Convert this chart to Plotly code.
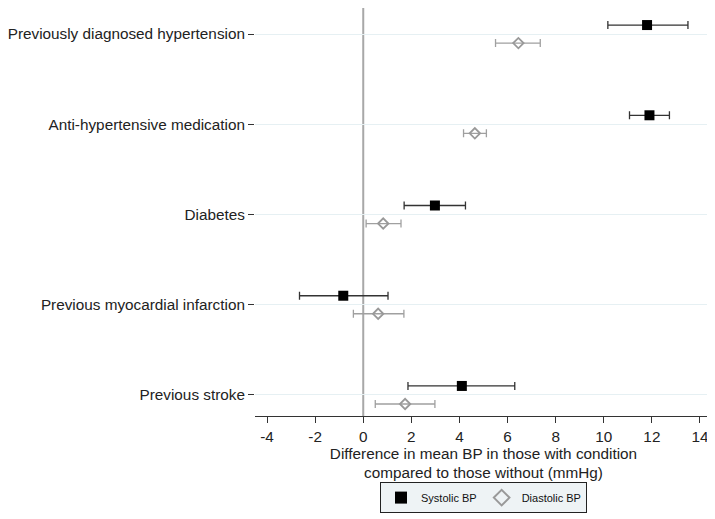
import plotly.graph_objects as go

# Conditions, top to bottom
conditions = ['Previously diagnosed hypertension', 'Anti-hypertensive medication',
              'Diabetes', 'Previous myocardial infarction', 'Previous stroke']

# Systolic BP: mean difference and 95% CI
sys_mean = [11.8, 11.9, 2.98, -0.83, 4.1]
sys_low = [10.17, 11.07, 1.7, -2.65, 1.86]
sys_high = [13.5, 12.73, 4.25, 1.03, 6.3]

# Diastolic BP: mean difference and 95% CI
dia_mean = [6.45, 4.64, 0.83, 0.62, 1.74]
dia_low = [5.5, 4.17, 0.12, -0.41, 0.5]
dia_high = [7.36, 5.12, 1.57, 1.69, 2.98]

x_ticks = [-4, -2, 0, 2, 4, 6, 8, 10, 12, 14]

FONT = 'Liberation Sans, Arial, sans-serif'

n = len(conditions)
ypos = [n - i for i in range(n)]
offset = 0.1

fig = go.Figure()

# Systolic
fig.add_trace(go.Scatter(
    x=sys_mean,
    y=[p + offset for p in ypos],
    mode='markers',
    name='Systolic BP',
    marker=dict(symbol='square', size=10, color='black'),
    error_x=dict(type='data', symmetric=False,
                 array=[h - m for h, m in zip(sys_high, sys_mean)],
                 arrayminus=[m - l for m, l in zip(sys_mean, sys_low)],
                 color='#333333', thickness=1.3, width=4),
))

# Diastolic
fig.add_trace(go.Scatter(
    x=dia_mean,
    y=[p - offset for p in ypos],
    mode='markers',
    name='Diastolic BP',
    marker=dict(symbol='diamond-open', size=8, color='#999999',
                line=dict(width=1.8, color='#999999')),
    error_x=dict(type='data', symmetric=False,
                 array=[h - m for h, m in zip(dia_high, dia_mean)],
                 arrayminus=[m - l for m, l in zip(dia_mean, dia_low)],
                 color='#a0a0a0', thickness=1.3, width=4),
))

# Reference line at zero
fig.add_shape(type='line', xref='x', yref='paper', x0=0, x1=0, y0=0, y1=1,
              line=dict(color='#a8a8a8', width=2), layer='below')

# page body adds an 8px margin, so the figure is sized 8px smaller
fig.update_layout(
    width=707, height=511,
    margin=dict(l=244, r=3, t=0, b=103),
    plot_bgcolor='white',
    paper_bgcolor='white',
    font=dict(family=FONT, size=15, color='#222222'),
    showlegend=True,
    legend=dict(
        orientation='h',
        x=0.5, xanchor='center',
        y=-0.162, yanchor='top',
        bgcolor='#eef3f5',
        bordercolor='#222222', borderwidth=1,
        font=dict(size=11, color='#111111'),
        itemsizing='constant',
    ),
)

fig.update_xaxes(
    range=[-4.5, 14.5],
    tickvals=x_ticks,
    ticktext=[str(t) for t in x_ticks],
    showgrid=False,
    zeroline=False,
    showline=True, linecolor='#333333', linewidth=1.3,
    ticks='outside', ticklen=6, tickcolor='#333333', tickwidth=1.3,
    tickfont=dict(size=15.3, color='#222222'),
    title=dict(text='Difference in mean BP in those with condition<br>compared to those without (mmHg)',
               font=dict(size=15.3, color='#222222'), standoff=0),
)

fig.update_yaxes(
    range=[0.767, 5.289],
    tickvals=ypos,
    ticktext=conditions,
    showgrid=True, gridcolor='#e6f0f3', gridwidth=1,
    zeroline=False,
    showline=False,
    ticks='outside', ticklen=6, tickcolor='#333333', tickwidth=1.3,
    tickfont=dict(size=15.3, color='#222222'),
)

fig.write_html("out.html")
